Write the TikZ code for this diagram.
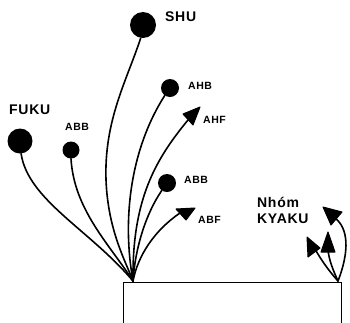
\documentclass[tikz,border=0pt]{standalone}
\usepackage{fontspec}
\setmainfont{Liberation Sans}
\newfontfamily\lblfont[LetterSpace=5]{Liberation Sans}
\begin{document}
\begin{tikzpicture}[x=1pt,y=-1pt,
  ball/.style={circle,fill=black,inner sep=0pt},
  stem/.style={line width=1.6pt,line cap=round},
  big/.style={anchor=west,inner sep=0pt,font=\lblfont\bfseries\fontsize{14}{14}\selectfont},
  small/.style={anchor=west,inner sep=0pt,font=\lblfont\bfseries\fontsize{10.5}{10.5}\selectfont},
  tri/.style={fill=black,draw=black,line width=1pt,line join=round}]
\useasboundingbox (0,0) rectangle (350,322);
% box
\draw[line width=1pt] (123,323) -- (123,282) -- (341,282) -- (341,323);
\coordinate (base) at (133,281);
\coordinate (kbase) at (338,281);
% balls
\node[ball,minimum size=26pt] (shu) at (143,25) {};
\node[ball,minimum size=25pt] (fuku) at (20,141) {};
\node[ball,minimum size=17pt] (abb1) at (71,150) {};
\node[ball,minimum size=18pt] (ahb) at (170,88) {};
\node[ball,minimum size=18pt] (abb2) at (167,183) {};
% triangles
\filldraw[tri] (183,114) -- (200,107) -- (193,125) -- cycle;
\coordinate (ahf) at (188,120);
\filldraw[tri] (176,209) -- (195,208) -- (186,220) -- cycle;
\coordinate (abf) at (180,213);
\filldraw[tri] (323,207) -- (342,212) -- (331,225) -- cycle;
\coordinate (k1) at (335,218);
\filldraw[tri] (328,232) -- (321,252) -- (335,252) -- cycle;
\coordinate (k2) at (328,250);
\filldraw[tri] (307,237) -- (308,257) -- (320,248) -- cycle;
\coordinate (k3) at (315,249);
% stems
\draw[stem] (shu.-100) .. controls (127,80) and (104,120) .. (106,180) .. controls (108,230) and (125,260) .. (base);
\draw[stem] (fuku.-85) .. controls (28,200) and (90,230) .. (base);
\draw[stem] (abb1.-90) .. controls (74,210) and (110,245) .. (base);
\draw[stem] (ahb.-125) .. controls (130,150) and (122,220) .. (base);
\draw[stem] (ahf) .. controls (155,160) and (132,200) .. (base);
\draw[stem] (abb2.-125) .. controls (145,215) and (135,250) .. (base);
\draw[stem] (abf) .. controls (155,230) and (138,255) .. (base);
\draw[stem] (kbase) .. controls (350,250) and (348,228) .. (k1);
\draw[stem] (kbase) .. controls (333,270) and (329,260) .. (k2);
\draw[stem] (kbase) .. controls (328,270) and (320,258) .. (k3);
% labels
\node[big] (tshu) at (165,17) {SHU};
\node[big] (tfuku) at (9,110) {FUKU};
\node[small] (tabb1) at (65,127) {ABB};
\node[small] (tahb) at (188,86) {AHB};
\node[small] (tahf) at (203,120) {AHF};
\node[small] (tabb2) at (184,180) {ABB};
\node[small] (tabf) at (198,220) {ABF};
\node[big] (tnhom) at (257,202) {Nhóm};
\node[big] (tkyaku) at (257,219) {KYAKU};
\end{tikzpicture}
\end{document}
